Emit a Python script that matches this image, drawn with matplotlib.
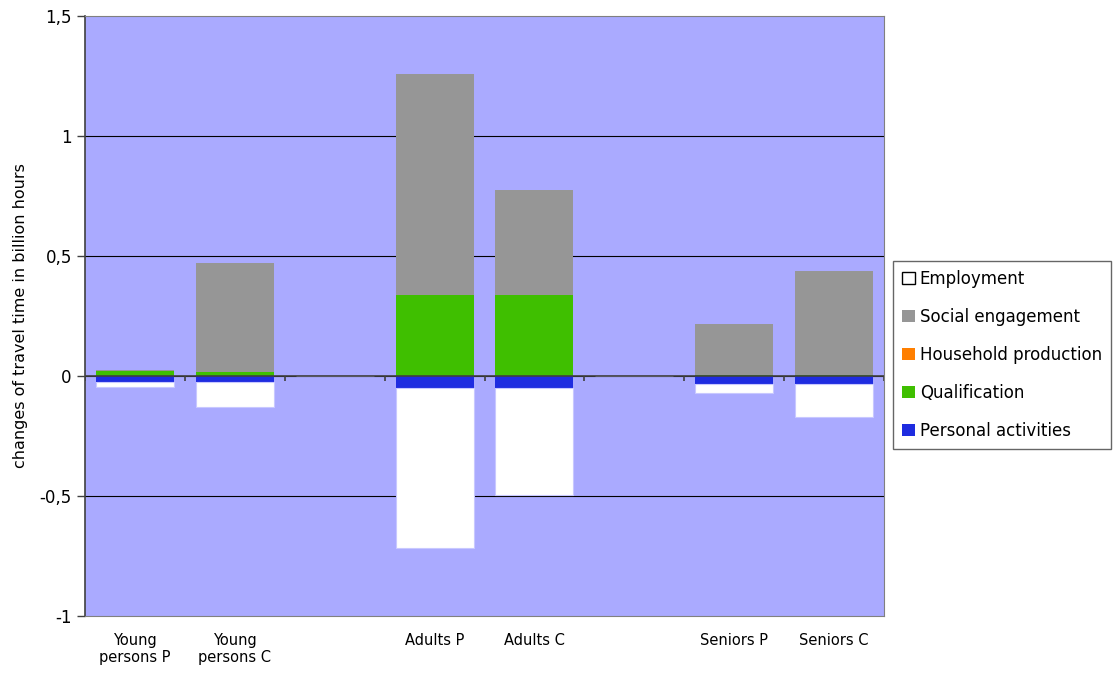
import matplotlib
matplotlib.use("Agg")
import matplotlib.pyplot as plt
import numpy as np

# categories (empty strings are the gaps between groups)
categories = ["Young\npersons P", "Young\npersons C", "", "Adults P", "Adults C", "", "Seniors P", "Seniors C"]

# series, in stacking order (legend shows them reversed)
personal = [-0.026, -0.026, 0, -0.05, -0.05, 0, -0.035, -0.035]
qualification = [0.020, 0.018, 0, 0.3375, 0.3375, 0, 0.003, 0.003]
household = [0, 0, 0, 0, 0, 0, 0, 0]
social = [0.005, 0.452, 0, 0.92, 0.4375, 0, 0.214, 0.4345]
employment = [-0.021, -0.105, 0, -0.667, -0.446, 0, -0.036, -0.135]

series_names = ["Personal activities", "Qualification", "Household production",
                "Social engagement", "Employment"]
series_vals = [personal, qualification, household, social, employment]
colors = ["#1E2CE0", "#3FBF00", "#FF7F00", "#969696", "#FFFFFF"]

ytick_vals = [-1, -0.5, 0, 0.5, 1, 1.5]
ytick_labels = ["-1", "-0,5", "0", "0,5", "1", "1,5"]

fig = plt.figure(figsize=(11.13, 6.73), dpi=100)
ax = fig.add_axes([85 / 1113, 57 / 673, 799 / 1113, 600 / 673])
ax.set_facecolor("#AAAAFF")

x = np.arange(len(categories))
pos_base = np.zeros(len(categories))
neg_base = np.zeros(len(categories))
handles = []
for name, vals, col in zip(series_names, series_vals, colors):
    vals = np.array(vals, dtype=float)
    bottoms = np.where(vals >= 0, pos_base, neg_base)
    ec = "#C8C8FF" if col == "#FFFFFF" else "none"
    b = ax.bar(x, vals, width=0.78, bottom=bottoms, color=col, edgecolor=ec,
               linewidth=0.8, zorder=3, label=name)
    handles.append(b)
    pos_base += np.where(vals >= 0, vals, 0)
    neg_base += np.where(vals < 0, vals, 0)

ax.set_xlim(-0.5, len(categories) - 0.5)
ax.set_ylim(-1, 1.5)
ax.set_yticks(ytick_vals)
ax.set_yticklabels(ytick_labels, fontsize=12)
for v in ytick_vals[1:-1]:
    ax.axhline(v, color="black", linewidth=0.8, zorder=1)
ax.axhline(0, color="#404040", linewidth=1.2, zorder=4)
# category separator ticks on the zero line
ax.vlines(np.arange(len(categories) + 1) - 0.5, -0.02, 0, color="#404040",
          linewidth=1.2, zorder=4)

ax.set_xticks(x)
ax.set_xticklabels(categories, fontsize=10.5)
ax.tick_params(axis="x", length=0, pad=12)
ax.tick_params(axis="y", length=6, width=1, color="#404040")

for s in ["top", "right", "bottom"]:
    ax.spines[s].set_color("#808080")
ax.spines["left"].set_color("#404040")
ax.spines["left"].set_linewidth(1.2)

ax.set_ylabel("changes of travel time in billion hours", fontsize=11.5, labelpad=8)

leg = fig.legend(handles[::-1], series_names[::-1], loc="center left",
                 bbox_to_anchor=(893 / 1113, 1 - 355 / 673), fontsize=12,
                 frameon=True, fancybox=False, edgecolor="#404040",
                 handlelength=0.75, handleheight=0.75, handletextpad=0.3,
                 labelspacing=1.2, borderpad=0.55, borderaxespad=0)
leg.legend_handles[0].set_edgecolor("black")
leg.legend_handles[0].set_linewidth(1)

fig.savefig("out.png", dpi=100)
